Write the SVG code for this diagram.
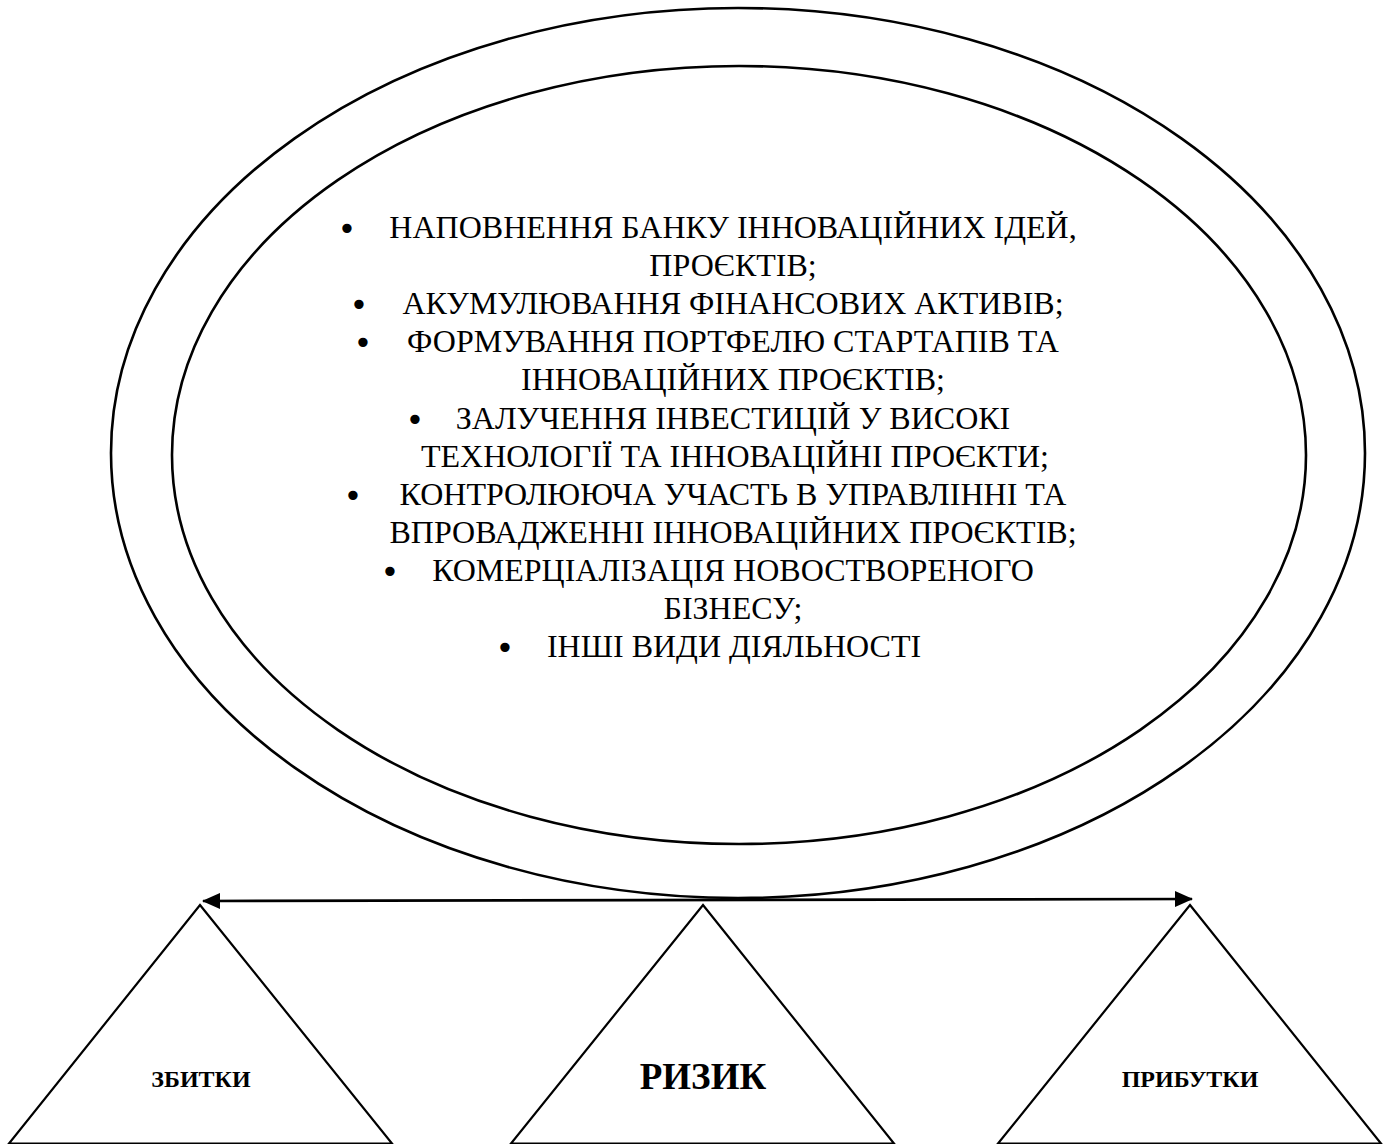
<svg xmlns="http://www.w3.org/2000/svg" width="1390" height="1144" viewBox="0 0 1390 1144">
  <style>
    .ring { fill: none; stroke: #000; stroke-width: 2.6; }
    .tri { fill: none; stroke: #000; stroke-width: 2.2; stroke-linejoin: miter; }
    .item { font-family: "Liberation Serif", "Times New Roman", serif; font-size: 32px; fill: #000; text-anchor: middle; }
    .dot { font-family: "DejaVu Sans", sans-serif; font-size: 32px; fill: #000; text-anchor: middle; }
    .lbl { font-family: "Liberation Serif", "Times New Roman", serif; font-weight: bold; fill: #000; text-anchor: middle; }
    .link { fill: none; stroke: #000; stroke-width: 2.6; }
  </style>
  <defs>
    <marker id="head" markerUnits="userSpaceOnUse" markerWidth="18" markerHeight="16" refX="17" refY="8" orient="auto-start-reverse">
      <path d="M0,0 L18,8 L0,16 Z" fill="#000"/>
    </marker>
  </defs>
  <rect width="1390" height="1144" fill="#fff"/>

  <!-- activity field: two nested ellipses with bulleted list -->
  <g id="activities">
    <ellipse class="ring" cx="738" cy="453" rx="627" ry="445"/>
    <ellipse class="ring" cx="739" cy="455" rx="567" ry="389"/>
    <text class="dot" x="347" y="240">•</text>
    <text class="item" x="733" y="238">НАПОВНЕННЯ БАНКУ ІННОВАЦІЙНИХ ІДЕЙ,</text>
    <text class="item" x="733" y="276">ПРОЄКТІВ;</text>
    <text class="dot" x="359" y="316">•</text>
    <text class="item" x="733" y="314">АКУМУЛЮВАННЯ ФІНАНСОВИХ АКТИВІВ;</text>
    <text class="dot" x="363" y="354">•</text>
    <text class="item" x="733" y="352">ФОРМУВАННЯ ПОРТФЕЛЮ СТАРТАПІВ ТА</text>
    <text class="item" x="733" y="390">ІННОВАЦІЙНИХ ПРОЄКТІВ;</text>
    <text class="dot" x="415" y="431">•</text>
    <text class="item" x="733" y="429">ЗАЛУЧЕННЯ ІНВЕСТИЦІЙ У ВИСОКІ</text>
    <text class="item" x="735" y="467">ТЕХНОЛОГІЇ ТА ІННОВАЦІЙНІ ПРОЄКТИ;</text>
    <text class="dot" x="353" y="507">•</text>
    <text class="item" x="733" y="505">КОНТРОЛЮЮЧА УЧАСТЬ В УПРАВЛІННІ ТА</text>
    <text class="item" x="733" y="543">ВПРОВАДЖЕННІ ІННОВАЦІЙНИХ ПРОЄКТІВ;</text>
    <text class="dot" x="390" y="583">•</text>
    <text class="item" x="733" y="581">КОМЕРЦІАЛІЗАЦІЯ НОВОСТВОРЕНОГО</text>
    <text class="item" x="733" y="619">БІЗНЕСУ;</text>
    <text class="dot" x="505" y="659">•</text>
    <text class="item" x="734" y="657">ІНШІ ВИДИ ДІЯЛЬНОСТІ</text>
  </g>

  <!-- losses -->
  <g id="losses">
    <polygon class="tri" points="200,905 392,1143.5 9,1143.5"/>
    <text class="lbl" x="201" y="1087" font-size="24">ЗБИТКИ</text>
  </g>

  <!-- risk -->
  <g id="risk">
    <polygon class="tri" points="703,905 894,1143.5 511,1143.5"/>
    <text class="lbl" x="703" y="1089" font-size="37">РИЗИК</text>
  </g>

  <!-- profits -->
  <g id="profits">
    <polygon class="tri" points="1190,905 1381,1143.5 998,1143.5"/>
    <text class="lbl" x="1190" y="1087" font-size="24">ПРИБУТКИ</text>
  </g>

  <!-- two-way arrow between losses and profits -->
  <g id="connectors">
    <line class="link" x1="203" y1="901" x2="1192" y2="899" marker-start="url(#head)" marker-end="url(#head)"/>
  </g>
</svg>
